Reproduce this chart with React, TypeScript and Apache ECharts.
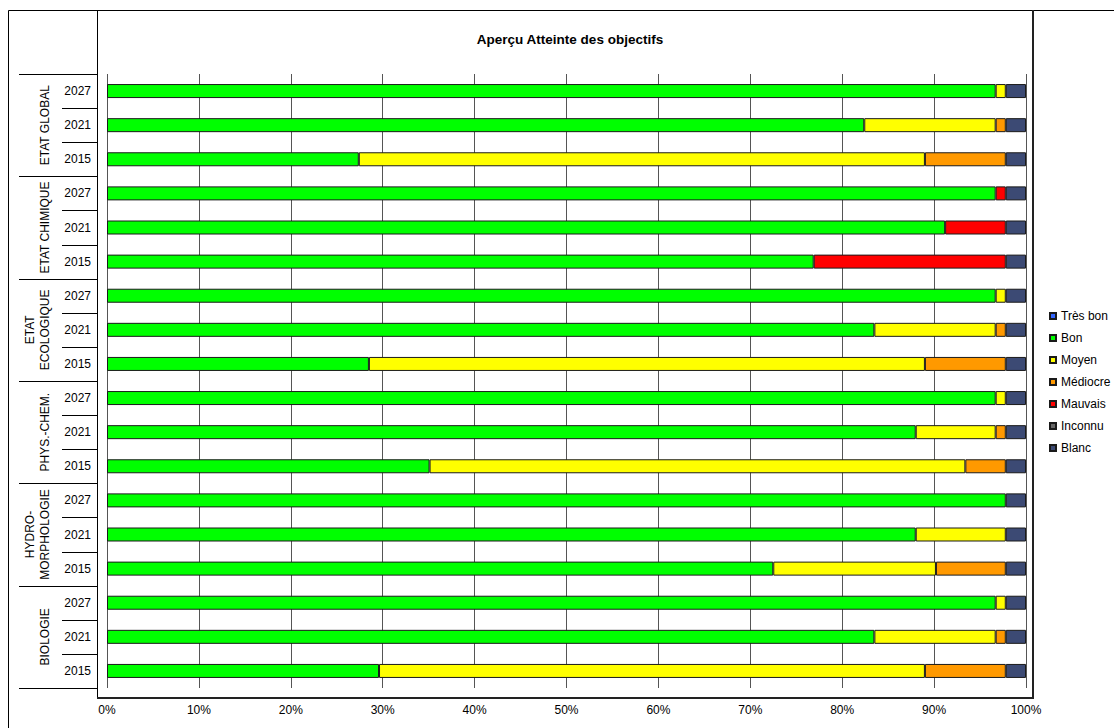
import React, { useEffect, useRef } from "react";
import * as echarts from "echarts";

const groups = ["ETAT GLOBAL", "ETAT CHIMIQUE", "ETAT\nECOLOGIQUE", "PHYS.-CHEM.", "HYDRO-\nMORPHOLOGIE", "BIOLOGIE"];
const years = ["2027", "2021", "2015"];
const seriesNames = ["Très bon", "Bon", "Moyen", "Médiocre", "Mauvais", "Inconnu", "Blanc"];
const seriesColors = ["#3366FF", "#00FF00", "#FFFF00", "#FF9900", "#FF0000", "#666666", "#3C4A74"];
const xTicks = [0, 10, 20, 30, 40, 50, 60, 70, 80, 90, 100];

const tresBon = [0, 0, 0, 0, 0, 0, 0, 0, 0, 0, 0, 0, 0, 0, 0, 0, 0, 0];
const bon = [96.7, 82.4, 27.4, 96.7, 91.2, 76.9, 96.7, 83.5, 28.5, 96.7, 88.0, 35.1, 97.8, 88.0, 72.5, 96.7, 83.5, 29.6];
const moyen = [1.1, 14.3, 61.6, 0, 0, 0, 1.1, 13.2, 60.5, 1.1, 8.7, 58.3, 0, 9.8, 17.7, 1.1, 13.2, 59.4];
const mediocre = [0, 1.1, 8.8, 0, 0, 0, 0, 1.1, 8.8, 0, 1.1, 4.4, 0, 0, 7.6, 0, 1.1, 8.8];
const mauvais = [0, 0, 0, 1.1, 6.6, 20.9, 0, 0, 0, 0, 0, 0, 0, 0, 0, 0, 0, 0];
const inconnu = [0, 0, 0, 0, 0, 0, 0, 0, 0, 0, 0, 0, 0, 0, 0, 0, 0, 0];
const blanc = [2.2, 2.2, 2.2, 2.2, 2.2, 2.2, 2.2, 2.2, 2.2, 2.2, 2.2, 2.2, 2.2, 2.2, 2.2, 2.2, 2.2, 2.2];

const seriesValues = [tresBon, bon, moyen, mediocre, mauvais, inconnu, blanc];

const FONT = 'Arial, "Liberation Sans", sans-serif';

export default function App() {
  const ref = useRef<HTMLDivElement>(null);

  useEffect(() => {
    if (!ref.current) return;
    const chart = echarts.init(ref.current, null, { renderer: "svg" });

    const rowIds: string[] = [];
    groups.forEach((g) => years.forEach((y) => rowIds.push(g + "|" + y)));

    const option: any = {
      animation: false,
      backgroundColor: "#ffffff",
      textStyle: { fontFamily: FONT },
      title: {
        text: "Aperçu Atteinte des objectifs",
        left: 565,
        top: 27,
        textAlign: "center",
        textStyle: { fontFamily: FONT, fontSize: 13.5, fontWeight: "bold", color: "#000" },
      },
      legend: {
        orient: "vertical",
        left: 1044,
        top: 305,
        itemWidth: 6,
        itemHeight: 6,
        itemGap: 10,
        icon: "rect",
        textStyle: { fontFamily: FONT, fontSize: 12, color: "#000" },
        data: seriesNames,
      },
      grid: { left: 107, right: 88, top: 74, bottom: 40, containLabel: false },
      xAxis: {
        type: "value",
        min: 0,
        max: 100,
        interval: 10,
        axisLine: { show: false },
        axisTick: { show: false },
        axisLabel: {
          margin: 16,
          fontFamily: FONT,
          fontSize: 12,
          color: "#000",
          formatter: (v: number) => (xTicks.includes(v) ? v + "%" : ""),
        },
        splitLine: { show: true, lineStyle: { color: "#555", width: 1 } },
      },
      yAxis: {
        type: "category",
        inverse: true,
        data: rowIds,
        axisLine: { show: false },
        axisTick: { show: false },
        axisLabel: {
          margin: 16,
          fontFamily: FONT,
          fontSize: 12,
          color: "#000",
          formatter: (v: string) => v.split("|")[1],
        },
      },
      series: seriesNames.map((name, i) => ({
        name,
        type: "bar",
        stack: "total",
        barWidth: 14,
        itemStyle: { color: seriesColors[i], borderColor: "#1a1a1a", borderWidth: 1 },
        data: seriesValues[i].map((v) => (v === 0 ? null : v)),
      })),
    };

    chart.setOption(option);

    const c0 = chart.convertToPixel({ yAxisIndex: 0 }, rowIds[0]) as number;
    const c1 = chart.convertToPixel({ yAxisIndex: 0 }, rowIds[1]) as number;
    const band = c1 - c0;
    const boundary = (i: number) => c0 - band / 2 + i * band;

    const elements: any[] = [];
    elements.push({ type: "line", shape: { x1: 8.5, y1: 10.5, x2: 1114, y2: 10.5 }, style: { stroke: "#000", lineWidth: 1 } });
    elements.push({ type: "line", shape: { x1: 8.5, y1: 10.5, x2: 8.5, y2: 728 }, style: { stroke: "#000", lineWidth: 1 } });
    elements.push({ type: "line", shape: { x1: 97.5, y1: 10.5, x2: 97.5, y2: 698 }, style: { stroke: "#000", lineWidth: 1 } });
    elements.push({ type: "line", shape: { x1: 97, y1: 698, x2: 1034, y2: 698 }, style: { stroke: "#222", lineWidth: 2 } });
    elements.push({ type: "line", shape: { x1: 1033, y1: 10, x2: 1033, y2: 699 }, style: { stroke: "#222", lineWidth: 2 } });

    const rows = groups.length * years.length;
    for (let i = 0; i <= rows; i++) {
      const y = Math.round(boundary(i)) + 0.5;
      const isGroup = i % years.length === 0;
      elements.push({
        type: "line",
        shape: { x1: isGroup ? 19 : 62, y1: y, x2: 97, y2: y },
        style: { stroke: "#000", lineWidth: 1 },
      });
    }
    groups.forEach((g, gi) => {
      const yc = (boundary(gi * years.length) + boundary((gi + 1) * years.length)) / 2;
      elements.push({
        type: "text",
        x: 52,
        y: yc,
        rotation: Math.PI / 2,
        style: {
          text: g,
          fontFamily: FONT,
          fontSize: 12,
          lineHeight: 15,
          fill: "#000",
          align: "center",
          verticalAlign: "bottom",
        },
      });
    });

    chart.setOption({ graphic: { elements } });

    return () => chart.dispose();
  }, []);

  return <div ref={ref} style={{ position: "fixed", left: 0, top: 0, width: 1114, height: 728 }} />;
}
